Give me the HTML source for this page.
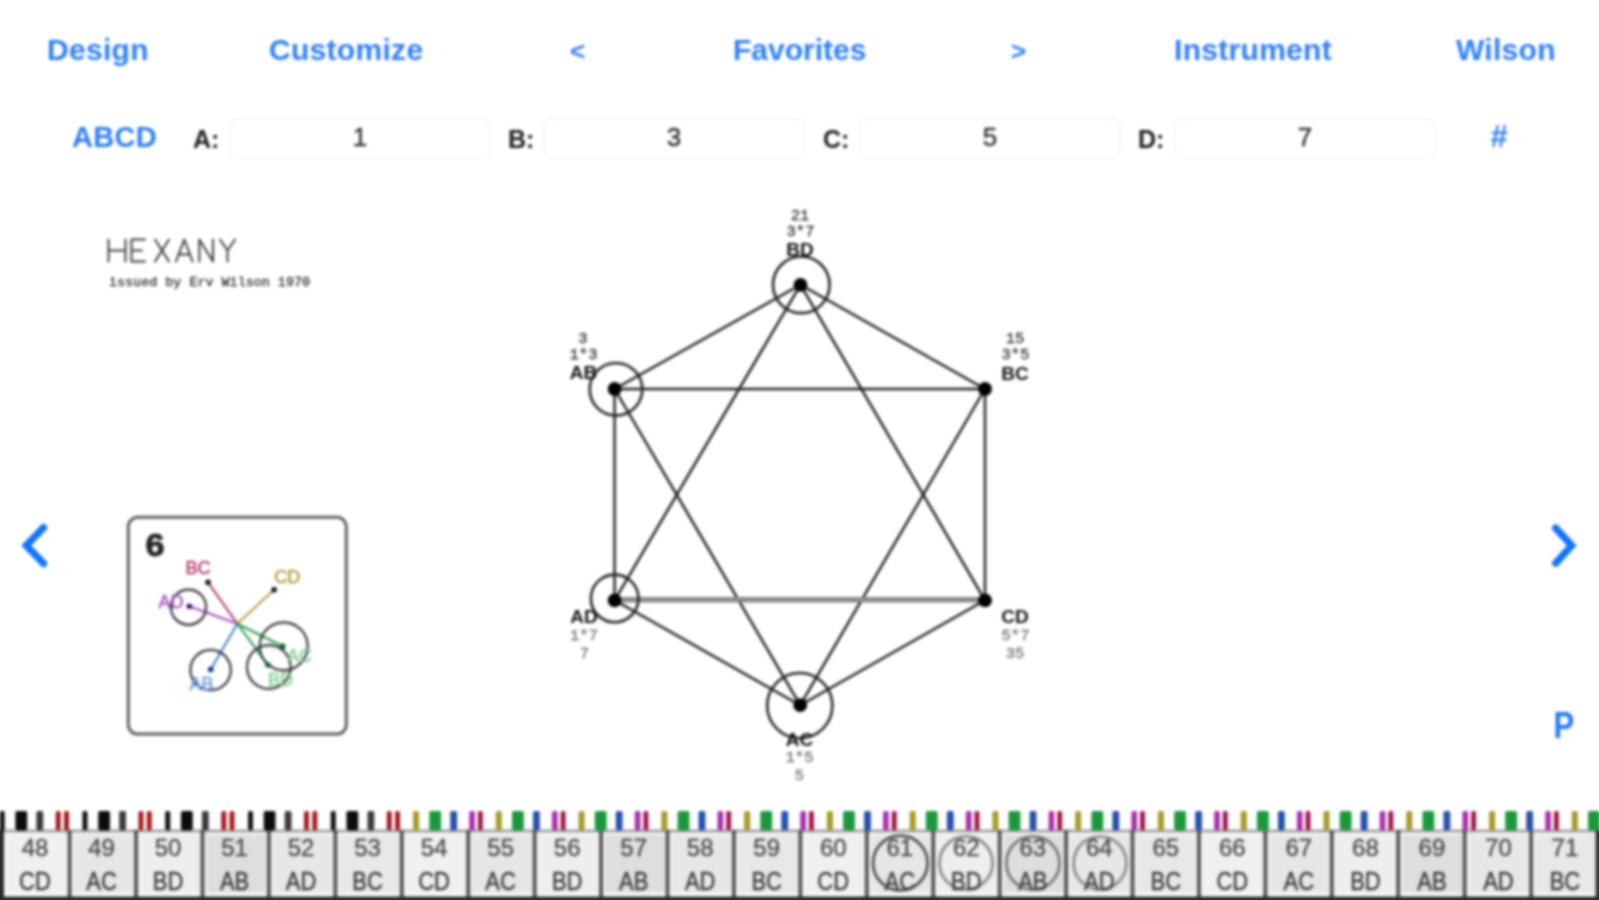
<!DOCTYPE html>
<html>
<head>
<meta charset="utf-8">
<title>Hexany</title>
<style>
html,body{margin:0;padding:0;background:#fff;}
body{width:1599px;height:900px;overflow:hidden;position:relative;font-family:"Liberation Sans",sans-serif;}
#root{position:absolute;left:0;top:0;width:1599px;height:900px;overflow:visible;filter:blur(1.35px);}
.t{position:absolute;white-space:nowrap;line-height:1;}
.nav{color:#2d7ff8;font-weight:bold;font-size:30px;top:35px;letter-spacing:0.3px;}
.lab{color:#1c1c1c;font-weight:bold;font-size:25px;top:127.3px;}
.inp{position:absolute;top:118px;height:40px;width:262px;border:1.5px solid #ececec;border-radius:9px;box-sizing:border-box;}
.val{-webkit-text-stroke:0.5px #333;color:#333;font-size:26px;top:124px;width:262px;text-align:center;}
</style>
</head>
<body>
<div id="root">
<!-- top nav -->
<div class="t nav" style="left:47px;">Design</div>
<div class="t nav" style="left:269px;">Customize</div>
<div class="t nav" style="left:570px;font-size:26px;top:38px;">&lt;</div>
<div class="t nav" style="left:733px;letter-spacing:0;">Favorites</div>
<div class="t nav" style="left:1011px;font-size:26px;top:38px;">&gt;</div>
<div class="t nav" style="left:1174px;">Instrument</div>
<div class="t nav" style="left:1456px;">Wilson</div>

<!-- row 2 -->
<div class="t nav" style="left:72px;top:122.7px;font-size:29px;">ABCD</div>
<div class="t lab" style="left:193px;">A:</div>
<div class="inp" style="left:229px;"></div>
<div class="t val" style="left:229px;">1</div>
<div class="t lab" style="left:508px;">B:</div>
<div class="inp" style="left:543px;"></div>
<div class="t val" style="left:543px;">3</div>
<div class="t lab" style="left:823px;">C:</div>
<div class="inp" style="left:859px;"></div>
<div class="t val" style="left:859px;">5</div>
<div class="t lab" style="left:1138px;">D:</div>
<div class="inp" style="left:1174px;"></div>
<div class="t val" style="left:1174px;">7</div>
<div class="t nav" style="left:1490.5px;top:121px;font-size:31px;">#</div>

<!-- MAIN SVG -->
<svg id="main" style="position:absolute;left:0;top:0;overflow:visible;" width="1599" height="900" viewBox="0 0 1599 900">
<!--HEX-->
<g stroke="#1c1c1c" stroke-width="2.45" stroke-linecap="round" fill="none">
<line x1="800.5" y1="284.8" x2="985" y2="389"/>
<line x1="800.5" y1="284.8" x2="985" y2="600.3"/>
<line x1="800.5" y1="284.8" x2="614.6" y2="600.3"/>
<line x1="800.5" y1="284.8" x2="614.6" y2="389"/>
<line x1="985" y1="389" x2="985" y2="600.3"/>
<line x1="985" y1="389" x2="800.2" y2="705.2"/>
<line x1="985" y1="389" x2="614.6" y2="389"/>
<line x1="985" y1="600.3" x2="800.2" y2="705.2"/>
<line x1="800.2" y1="705.2" x2="614.6" y2="600.3"/>
<line x1="800.2" y1="705.2" x2="614.6" y2="389"/>
<line x1="614.6" y1="600.3" x2="614.6" y2="389"/>
</g>
<line x1="614.6" y1="599.8" x2="985" y2="599.8" stroke="#8a8a8a" stroke-width="5.4"/>
<g stroke="#222" stroke-width="2.6" fill="none">
<circle cx="801.3" cy="284.8" r="28.3"/>
<circle cx="616" cy="389.3" r="26.3"/>
<circle cx="614.7" cy="598.4" r="23.8"/>
<circle cx="799.8" cy="705.6" r="32.6"/>
</g>
<g fill="#000">
<circle cx="800.5" cy="284.8" r="6.9"/>
<circle cx="985" cy="389" r="6.9"/>
<circle cx="985" cy="600.3" r="6.9"/>
<circle cx="800.2" cy="705.2" r="6.9"/>
<circle cx="614.6" cy="600.3" r="6.9"/>
<circle cx="614.6" cy="389" r="6.9"/>
</g>
<text x="800" y="255.6" text-anchor="middle" font-size="19" font-weight="bold" fill="#111">BD</text>
<text x="800.5" y="235.8" text-anchor="middle" font-family="Liberation Mono, monospace" font-size="15.5" fill="#2c2c2c" stroke="#2c2c2c" stroke-width="0.3">3*7</text>
<text x="800" y="219.6" text-anchor="middle" font-family="Liberation Mono, monospace" font-size="15.5" fill="#2c2c2c" stroke="#2c2c2c" stroke-width="0.3">21</text>
<text x="583.5" y="378.5" text-anchor="middle" font-size="19" font-weight="bold" fill="#111">AB</text>
<text x="583.5" y="358.8" text-anchor="middle" font-family="Liberation Mono, monospace" font-size="15.5" fill="#2c2c2c" stroke="#2c2c2c" stroke-width="0.3">1*3</text>
<text x="583" y="342.6" text-anchor="middle" font-family="Liberation Mono, monospace" font-size="15.5" fill="#2c2c2c" stroke="#2c2c2c" stroke-width="0.3">3</text>
<text x="1015" y="379.5" text-anchor="middle" font-size="19" font-weight="bold" fill="#111">BC</text>
<text x="1015.5" y="358.8" text-anchor="middle" font-family="Liberation Mono, monospace" font-size="15.5" fill="#2c2c2c" stroke="#2c2c2c" stroke-width="0.3">3*5</text>
<text x="1015" y="342.6" text-anchor="middle" font-family="Liberation Mono, monospace" font-size="15.5" fill="#2c2c2c" stroke="#2c2c2c" stroke-width="0.3">15</text>
<text x="584" y="623.4" text-anchor="middle" font-size="19" font-weight="bold" fill="#111">AD</text>
<text x="584" y="639.5" text-anchor="middle" font-family="Liberation Mono, monospace" font-size="15.5" fill="#6c6c6c" stroke="#6c6c6c" stroke-width="0.3">1*7</text>
<text x="584.5" y="657.5" text-anchor="middle" font-family="Liberation Mono, monospace" font-size="15.5" fill="#6c6c6c" stroke="#6c6c6c" stroke-width="0.3">7</text>
<text x="1015" y="623" text-anchor="middle" font-size="19" font-weight="bold" fill="#111">CD</text>
<text x="1015.5" y="639.5" text-anchor="middle" font-family="Liberation Mono, monospace" font-size="15.5" fill="#6c6c6c" stroke="#6c6c6c" stroke-width="0.3">5*7</text>
<text x="1015" y="657.5" text-anchor="middle" font-family="Liberation Mono, monospace" font-size="15.5" fill="#6c6c6c" stroke="#6c6c6c" stroke-width="0.3">35</text>
<text x="799.5" y="745.6" text-anchor="middle" font-size="19" font-weight="bold" fill="#111">AC</text>
<text x="799.5" y="762" text-anchor="middle" font-family="Liberation Mono, monospace" font-size="15.5" fill="#6c6c6c" stroke="#6c6c6c" stroke-width="0.3">1*5</text>
<text x="799.5" y="780.4" text-anchor="middle" font-family="Liberation Mono, monospace" font-size="15.5" fill="#6c6c6c" stroke="#6c6c6c" stroke-width="0.3">5</text>
<g stroke="#1273fe" stroke-width="7.2" fill="none" stroke-linejoin="miter" stroke-linecap="round">
<polyline points="43.6,527.6 26.3,545.6 43.6,563.6"/>
<polyline points="1555.6,528 1571.7,545.6 1555.6,563.2"/>
</g>
<text transform="translate(1553.5 738) scale(1 1.2)" font-size="31" font-weight="bold" fill="#1f79fa">P</text>
<rect x="128.3" y="517.3" width="218" height="216.8" rx="9.5" fill="#fff" stroke="#5e5e5e" stroke-width="3"/>
<text x="145.5" y="555.5" font-size="31" font-weight="bold" fill="#222" stroke="#222" stroke-width="0.9" textLength="19" lengthAdjust="spacingAndGlyphs">6</text>
<g stroke-width="2.1" stroke-linecap="round">
<line x1="237.3" y1="623.7" x2="208" y2="582.3" stroke="#b03a72"/>
<line x1="237.3" y1="623.7" x2="274.1" y2="589.8" stroke="#b39a3c"/>
<line x1="237.3" y1="623.7" x2="189.3" y2="606.3" stroke="#a24fc4"/>
<line x1="237.3" y1="623.7" x2="210.7" y2="669.5" stroke="#3f7fd0"/>
<line x1="237.3" y1="623.7" x2="282.7" y2="646.3" stroke="#2a9b4e"/>
<line x1="237.3" y1="623.7" x2="268" y2="665" stroke="#2a9b4e"/>
</g>
<g stroke="#333" stroke-width="2.2" fill="none">
<circle cx="188.5" cy="607.2" r="17.6"/>
<circle cx="210.6" cy="670" r="20.2"/>
<circle cx="283.7" cy="646.3" r="24"/>
<circle cx="268.8" cy="667" r="21.8"/>
</g>
<circle cx="208" cy="582.3" r="2.8" fill="#111"/>
<text x="198" y="574" text-anchor="middle" font-size="18" fill="#b03a72" stroke="#b03a72" stroke-width="0.5">BC</text>
<circle cx="274.1" cy="589.8" r="2.8" fill="#111"/>
<text x="287.3" y="583.3" text-anchor="middle" font-size="18" fill="#b39a3c" stroke="#b39a3c" stroke-width="0.5">CD</text>
<circle cx="189.3" cy="606.3" r="2.8" fill="#40106a"/>
<text x="171" y="607.5" text-anchor="middle" font-size="18" fill="#a24fc4" stroke="#a24fc4" stroke-width="0.5">AD</text>
<circle cx="210.7" cy="669.5" r="2.8" fill="#0a2a90"/>
<text x="201.5" y="690" text-anchor="middle" font-size="18" fill="#6a9be0" stroke="#6a9be0" stroke-width="0.5">AB</text>
<circle cx="282.7" cy="646.3" r="2.8" fill="#0c5a2a"/>
<text x="299.5" y="662" text-anchor="middle" font-size="18" fill="#7fd08f" stroke="#7fd08f" stroke-width="0.5">AC</text>
<circle cx="268" cy="665" r="2.8" fill="#0c5a2a"/>
<text x="280.5" y="686" text-anchor="middle" font-size="18" fill="#7fcf95" stroke="#7fcf95" stroke-width="0.5">BD</text>
<g stroke="#3c3c3c" stroke-width="2" fill="none" stroke-linecap="round" stroke-linejoin="round">
<path d="M108.5 239.5V261.5M125.5 239.5V261.5M108.5 250.5H125.5"/>
<path d="M145 239.5H131.5V261.5H145M131.5 250.5H142"/>
<path d="M155 239.5L169 261.5M169 239.5L155 261.5"/>
<path d="M176 261.5L184.3 239.5L192.6 261.5M179 254.5H189.6"/>
<path d="M199.3 261.5V239.5L213 261.5V239.5"/>
<path d="M220 239.5L227.5 250.5L235 239.5M227.5 250.5V261.5"/>
</g>
<text x="109" y="286" font-family="Liberation Mono, monospace" font-size="12.6" fill="#333" stroke="#333" stroke-width="0.35" textLength="201" lengthAdjust="spacingAndGlyphs">issued by Erv Wilson 1970</text>
<!--KB-->
<rect x="-20" y="830" width="1639" height="90" fill="#e9e9e9"/>
<rect x="3.20" y="831" width="66.43" height="66" fill="#f7f7f7"/>
<rect x="7.40" y="835" width="59.23" height="57.5" fill="#f0f0f0"/>
<rect x="69.63" y="831" width="66.43" height="66" fill="#f7f7f7"/>
<rect x="73.83" y="835" width="59.23" height="57.5" fill="#e6e6e6"/>
<rect x="136.06" y="831" width="66.43" height="66" fill="#f7f7f7"/>
<rect x="140.26" y="835" width="59.23" height="57.5" fill="#eeeeee"/>
<rect x="202.49" y="831" width="66.43" height="66" fill="#f7f7f7"/>
<rect x="206.69" y="835" width="59.23" height="57.5" fill="#dedede"/>
<rect x="268.92" y="831" width="66.43" height="66" fill="#f7f7f7"/>
<rect x="273.12" y="835" width="59.23" height="57.5" fill="#e7e7e7"/>
<rect x="335.35" y="831" width="66.43" height="66" fill="#f7f7f7"/>
<rect x="339.55" y="835" width="59.23" height="57.5" fill="#e8e8e8"/>
<rect x="401.78" y="831" width="66.43" height="66" fill="#f7f7f7"/>
<rect x="405.98" y="835" width="59.23" height="57.5" fill="#f0f0f0"/>
<rect x="468.21" y="831" width="66.43" height="66" fill="#f7f7f7"/>
<rect x="472.41" y="835" width="59.23" height="57.5" fill="#e6e6e6"/>
<rect x="534.64" y="831" width="66.43" height="66" fill="#f7f7f7"/>
<rect x="538.84" y="835" width="59.23" height="57.5" fill="#eeeeee"/>
<rect x="601.07" y="831" width="66.43" height="66" fill="#f7f7f7"/>
<rect x="605.27" y="835" width="59.23" height="57.5" fill="#dedede"/>
<rect x="667.50" y="831" width="66.43" height="66" fill="#f7f7f7"/>
<rect x="671.70" y="835" width="59.23" height="57.5" fill="#e7e7e7"/>
<rect x="733.93" y="831" width="66.43" height="66" fill="#f7f7f7"/>
<rect x="738.13" y="835" width="59.23" height="57.5" fill="#e8e8e8"/>
<rect x="800.36" y="831" width="66.43" height="66" fill="#f7f7f7"/>
<rect x="804.56" y="835" width="59.23" height="57.5" fill="#f0f0f0"/>
<rect x="866.79" y="831" width="66.43" height="66" fill="#f7f7f7"/>
<rect x="870.99" y="835" width="59.23" height="57.5" fill="#e6e6e6"/>
<rect x="933.22" y="831" width="66.43" height="66" fill="#f7f7f7"/>
<rect x="937.42" y="835" width="59.23" height="57.5" fill="#eeeeee"/>
<rect x="999.65" y="831" width="66.43" height="66" fill="#f7f7f7"/>
<rect x="1003.85" y="835" width="59.23" height="57.5" fill="#dedede"/>
<rect x="1066.08" y="831" width="66.43" height="66" fill="#f7f7f7"/>
<rect x="1070.28" y="835" width="59.23" height="57.5" fill="#e7e7e7"/>
<rect x="1132.51" y="831" width="66.43" height="66" fill="#f7f7f7"/>
<rect x="1136.71" y="835" width="59.23" height="57.5" fill="#e8e8e8"/>
<rect x="1198.94" y="831" width="66.43" height="66" fill="#f7f7f7"/>
<rect x="1203.14" y="835" width="59.23" height="57.5" fill="#f0f0f0"/>
<rect x="1265.37" y="831" width="66.43" height="66" fill="#f7f7f7"/>
<rect x="1269.57" y="835" width="59.23" height="57.5" fill="#e6e6e6"/>
<rect x="1331.80" y="831" width="66.43" height="66" fill="#f7f7f7"/>
<rect x="1336.00" y="835" width="59.23" height="57.5" fill="#eeeeee"/>
<rect x="1398.23" y="831" width="66.43" height="66" fill="#f7f7f7"/>
<rect x="1402.43" y="835" width="59.23" height="57.5" fill="#dedede"/>
<rect x="1464.66" y="831" width="66.43" height="66" fill="#f7f7f7"/>
<rect x="1468.86" y="835" width="59.23" height="57.5" fill="#e7e7e7"/>
<rect x="1531.09" y="831" width="66.43" height="66" fill="#f7f7f7"/>
<rect x="1535.29" y="835" width="59.23" height="57.5" fill="#e8e8e8"/>
<rect x="-20" y="829.5" width="1639" height="3" fill="#a2a2a2"/>
<rect x="-20" y="830" width="24" height="90" fill="#2a2a2a"/>
<rect x="67.63" y="830" width="4" height="70" fill="#555"/>
<rect x="134.06" y="830" width="4" height="70" fill="#555"/>
<rect x="200.49" y="830" width="4" height="70" fill="#555"/>
<rect x="266.92" y="830" width="4" height="70" fill="#555"/>
<rect x="333.35" y="830" width="4" height="70" fill="#555"/>
<rect x="399.78" y="830" width="4" height="70" fill="#555"/>
<rect x="466.21" y="830" width="4" height="70" fill="#555"/>
<rect x="532.64" y="830" width="4" height="70" fill="#555"/>
<rect x="599.07" y="830" width="4" height="70" fill="#555"/>
<rect x="665.50" y="830" width="4" height="70" fill="#555"/>
<rect x="731.93" y="830" width="4" height="70" fill="#555"/>
<rect x="798.36" y="830" width="4" height="70" fill="#555"/>
<rect x="864.79" y="830" width="4" height="70" fill="#555"/>
<rect x="931.22" y="830" width="4" height="70" fill="#555"/>
<rect x="997.65" y="830" width="4" height="70" fill="#555"/>
<rect x="1064.08" y="830" width="4" height="70" fill="#555"/>
<rect x="1130.51" y="830" width="4" height="70" fill="#555"/>
<rect x="1196.94" y="830" width="4" height="70" fill="#555"/>
<rect x="1263.37" y="830" width="4" height="70" fill="#555"/>
<rect x="1329.80" y="830" width="4" height="70" fill="#555"/>
<rect x="1396.23" y="830" width="4" height="70" fill="#555"/>
<rect x="1462.66" y="830" width="4" height="70" fill="#555"/>
<rect x="1529.09" y="830" width="4" height="70" fill="#555"/>
<rect x="1595.52" y="830" width="24" height="70" fill="#333"/>
<rect x="-20" y="896.6" width="1639" height="24" fill="#2a2a2a"/>
<rect x="-0.30" y="811" width="5.0" height="19.4" rx="1.8" fill="#111"/>
<rect x="15.40" y="811" width="11.8" height="19.4" rx="1.8" fill="#0c0c0c"/>
<rect x="36.40" y="811" width="6.8" height="19.4" rx="1.8" fill="#3a3a3a"/>
<rect x="55.75" y="811" width="4.9" height="19.4" rx="1.8" fill="#a3161c"/>
<rect x="64.05" y="811" width="4.9" height="19.4" rx="1.8" fill="#a3161c"/>
<rect x="82.47" y="811" width="5.0" height="19.4" rx="1.8" fill="#111"/>
<rect x="98.17" y="811" width="11.8" height="19.4" rx="1.8" fill="#0c0c0c"/>
<rect x="119.17" y="811" width="6.8" height="19.4" rx="1.8" fill="#3a3a3a"/>
<rect x="138.52" y="811" width="4.9" height="19.4" rx="1.8" fill="#a3161c"/>
<rect x="146.82" y="811" width="4.9" height="19.4" rx="1.8" fill="#a3161c"/>
<rect x="165.24" y="811" width="5.0" height="19.4" rx="1.8" fill="#111"/>
<rect x="180.94" y="811" width="11.8" height="19.4" rx="1.8" fill="#0c0c0c"/>
<rect x="201.94" y="811" width="6.8" height="19.4" rx="1.8" fill="#3a3a3a"/>
<rect x="221.29" y="811" width="4.9" height="19.4" rx="1.8" fill="#a3161c"/>
<rect x="229.59" y="811" width="4.9" height="19.4" rx="1.8" fill="#a3161c"/>
<rect x="248.01" y="811" width="5.0" height="19.4" rx="1.8" fill="#111"/>
<rect x="263.71" y="811" width="11.8" height="19.4" rx="1.8" fill="#0c0c0c"/>
<rect x="284.71" y="811" width="6.8" height="19.4" rx="1.8" fill="#3a3a3a"/>
<rect x="304.06" y="811" width="4.9" height="19.4" rx="1.8" fill="#a3161c"/>
<rect x="312.36" y="811" width="4.9" height="19.4" rx="1.8" fill="#a3161c"/>
<rect x="330.78" y="811" width="5.0" height="19.4" rx="1.8" fill="#111"/>
<rect x="346.48" y="811" width="11.8" height="19.4" rx="1.8" fill="#0c0c0c"/>
<rect x="367.48" y="811" width="6.8" height="19.4" rx="1.8" fill="#3a3a3a"/>
<rect x="386.83" y="811" width="4.9" height="19.4" rx="1.8" fill="#a3161c"/>
<rect x="395.13" y="811" width="4.9" height="19.4" rx="1.8" fill="#a3161c"/>
<rect x="413.05" y="811" width="6.0" height="19.4" rx="1.8" fill="#a59b28"/>
<rect x="429.25" y="811" width="11.8" height="19.4" rx="1.8" fill="#1c983c"/>
<rect x="450.25" y="811" width="6.8" height="19.4" rx="1.8" fill="#2450ac"/>
<rect x="469.25" y="811" width="5.6" height="19.4" rx="1.8" fill="#a82cac"/>
<rect x="477.90" y="811" width="4.9" height="19.4" rx="1.8" fill="#a01546"/>
<rect x="495.82" y="811" width="6.0" height="19.4" rx="1.8" fill="#a59b28"/>
<rect x="512.02" y="811" width="11.8" height="19.4" rx="1.8" fill="#1c983c"/>
<rect x="533.02" y="811" width="6.8" height="19.4" rx="1.8" fill="#2450ac"/>
<rect x="552.02" y="811" width="5.6" height="19.4" rx="1.8" fill="#a82cac"/>
<rect x="560.67" y="811" width="4.9" height="19.4" rx="1.8" fill="#a01546"/>
<rect x="578.59" y="811" width="6.0" height="19.4" rx="1.8" fill="#a59b28"/>
<rect x="594.79" y="811" width="11.8" height="19.4" rx="1.8" fill="#1c983c"/>
<rect x="615.79" y="811" width="6.8" height="19.4" rx="1.8" fill="#2450ac"/>
<rect x="634.79" y="811" width="5.6" height="19.4" rx="1.8" fill="#a82cac"/>
<rect x="643.44" y="811" width="4.9" height="19.4" rx="1.8" fill="#a01546"/>
<rect x="661.36" y="811" width="6.0" height="19.4" rx="1.8" fill="#a59b28"/>
<rect x="677.56" y="811" width="11.8" height="19.4" rx="1.8" fill="#1c983c"/>
<rect x="698.56" y="811" width="6.8" height="19.4" rx="1.8" fill="#2450ac"/>
<rect x="717.56" y="811" width="5.6" height="19.4" rx="1.8" fill="#a82cac"/>
<rect x="726.21" y="811" width="4.9" height="19.4" rx="1.8" fill="#a01546"/>
<rect x="744.13" y="811" width="6.0" height="19.4" rx="1.8" fill="#a59b28"/>
<rect x="760.33" y="811" width="11.8" height="19.4" rx="1.8" fill="#1c983c"/>
<rect x="781.33" y="811" width="6.8" height="19.4" rx="1.8" fill="#2450ac"/>
<rect x="800.33" y="811" width="5.6" height="19.4" rx="1.8" fill="#a82cac"/>
<rect x="808.98" y="811" width="4.9" height="19.4" rx="1.8" fill="#a01546"/>
<rect x="826.90" y="811" width="6.0" height="19.4" rx="1.8" fill="#a59b28"/>
<rect x="843.10" y="811" width="11.8" height="19.4" rx="1.8" fill="#1c983c"/>
<rect x="864.10" y="811" width="6.8" height="19.4" rx="1.8" fill="#2450ac"/>
<rect x="883.10" y="811" width="5.6" height="19.4" rx="1.8" fill="#a82cac"/>
<rect x="891.75" y="811" width="4.9" height="19.4" rx="1.8" fill="#a01546"/>
<rect x="909.67" y="811" width="6.0" height="19.4" rx="1.8" fill="#a59b28"/>
<rect x="925.87" y="811" width="11.8" height="19.4" rx="1.8" fill="#1c983c"/>
<rect x="946.87" y="811" width="6.8" height="19.4" rx="1.8" fill="#2450ac"/>
<rect x="965.87" y="811" width="5.6" height="19.4" rx="1.8" fill="#a82cac"/>
<rect x="974.52" y="811" width="4.9" height="19.4" rx="1.8" fill="#a01546"/>
<rect x="992.44" y="811" width="6.0" height="19.4" rx="1.8" fill="#a59b28"/>
<rect x="1008.64" y="811" width="11.8" height="19.4" rx="1.8" fill="#1c983c"/>
<rect x="1029.64" y="811" width="6.8" height="19.4" rx="1.8" fill="#2450ac"/>
<rect x="1048.64" y="811" width="5.6" height="19.4" rx="1.8" fill="#a82cac"/>
<rect x="1057.29" y="811" width="4.9" height="19.4" rx="1.8" fill="#a01546"/>
<rect x="1075.21" y="811" width="6.0" height="19.4" rx="1.8" fill="#a59b28"/>
<rect x="1091.41" y="811" width="11.8" height="19.4" rx="1.8" fill="#1c983c"/>
<rect x="1112.41" y="811" width="6.8" height="19.4" rx="1.8" fill="#2450ac"/>
<rect x="1131.41" y="811" width="5.6" height="19.4" rx="1.8" fill="#a82cac"/>
<rect x="1140.06" y="811" width="4.9" height="19.4" rx="1.8" fill="#a01546"/>
<rect x="1157.98" y="811" width="6.0" height="19.4" rx="1.8" fill="#a59b28"/>
<rect x="1174.18" y="811" width="11.8" height="19.4" rx="1.8" fill="#1c983c"/>
<rect x="1195.18" y="811" width="6.8" height="19.4" rx="1.8" fill="#2450ac"/>
<rect x="1214.18" y="811" width="5.6" height="19.4" rx="1.8" fill="#a82cac"/>
<rect x="1222.83" y="811" width="4.9" height="19.4" rx="1.8" fill="#a01546"/>
<rect x="1240.75" y="811" width="6.0" height="19.4" rx="1.8" fill="#a59b28"/>
<rect x="1256.95" y="811" width="11.8" height="19.4" rx="1.8" fill="#1c983c"/>
<rect x="1277.95" y="811" width="6.8" height="19.4" rx="1.8" fill="#2450ac"/>
<rect x="1296.95" y="811" width="5.6" height="19.4" rx="1.8" fill="#a82cac"/>
<rect x="1305.60" y="811" width="4.9" height="19.4" rx="1.8" fill="#a01546"/>
<rect x="1323.52" y="811" width="6.0" height="19.4" rx="1.8" fill="#a59b28"/>
<rect x="1339.72" y="811" width="11.8" height="19.4" rx="1.8" fill="#1c983c"/>
<rect x="1360.72" y="811" width="6.8" height="19.4" rx="1.8" fill="#2450ac"/>
<rect x="1379.72" y="811" width="5.6" height="19.4" rx="1.8" fill="#a82cac"/>
<rect x="1388.37" y="811" width="4.9" height="19.4" rx="1.8" fill="#a01546"/>
<rect x="1406.29" y="811" width="6.0" height="19.4" rx="1.8" fill="#a59b28"/>
<rect x="1422.49" y="811" width="11.8" height="19.4" rx="1.8" fill="#1c983c"/>
<rect x="1443.49" y="811" width="6.8" height="19.4" rx="1.8" fill="#2450ac"/>
<rect x="1462.49" y="811" width="5.6" height="19.4" rx="1.8" fill="#a82cac"/>
<rect x="1471.14" y="811" width="4.9" height="19.4" rx="1.8" fill="#a01546"/>
<rect x="1489.06" y="811" width="6.0" height="19.4" rx="1.8" fill="#a59b28"/>
<rect x="1505.26" y="811" width="11.8" height="19.4" rx="1.8" fill="#1c983c"/>
<rect x="1526.26" y="811" width="6.8" height="19.4" rx="1.8" fill="#2450ac"/>
<rect x="1545.26" y="811" width="5.6" height="19.4" rx="1.8" fill="#a82cac"/>
<rect x="1553.91" y="811" width="4.9" height="19.4" rx="1.8" fill="#a01546"/>
<rect x="1571.83" y="811" width="6.0" height="19.4" rx="1.8" fill="#a59b28"/>
<rect x="1588.03" y="811" width="11.8" height="19.4" rx="1.8" fill="#1c983c"/>
<rect x="1609.03" y="811" width="6.8" height="19.4" rx="1.8" fill="#2450ac"/>
<rect x="1628.03" y="811" width="5.6" height="19.4" rx="1.8" fill="#a82cac"/>
<rect x="1636.68" y="811" width="4.9" height="19.4" rx="1.8" fill="#a01546"/>
<rect x="1654.60" y="811" width="6.0" height="19.4" rx="1.8" fill="#a59b28"/>
<rect x="1670.80" y="811" width="11.8" height="19.4" rx="1.8" fill="#1c983c"/>
<rect x="1691.80" y="811" width="6.8" height="19.4" rx="1.8" fill="#2450ac"/>
<rect x="1710.80" y="811" width="5.6" height="19.4" rx="1.8" fill="#a82cac"/>
<rect x="1719.45" y="811" width="4.9" height="19.4" rx="1.8" fill="#a01546"/>
<text x="35.00" y="855.6" text-anchor="middle" font-size="24" fill="#4c4c4c" stroke="#4c4c4c" stroke-width="0.4">48</text>
<text transform="translate(35.00 889.6) scale(1 1.13)" text-anchor="middle" font-size="22" fill="#3c3c3c" stroke="#3c3c3c" stroke-width="0.4">CD</text>
<text x="101.52" y="855.6" text-anchor="middle" font-size="24" fill="#4c4c4c" stroke="#4c4c4c" stroke-width="0.4">49</text>
<text transform="translate(101.52 889.6) scale(1 1.13)" text-anchor="middle" font-size="22" fill="#3c3c3c" stroke="#3c3c3c" stroke-width="0.4">AC</text>
<text x="168.04" y="855.6" text-anchor="middle" font-size="24" fill="#4c4c4c" stroke="#4c4c4c" stroke-width="0.4">50</text>
<text transform="translate(168.04 889.6) scale(1 1.13)" text-anchor="middle" font-size="22" fill="#3c3c3c" stroke="#3c3c3c" stroke-width="0.4">BD</text>
<text x="234.56" y="855.6" text-anchor="middle" font-size="24" fill="#4c4c4c" stroke="#4c4c4c" stroke-width="0.4">51</text>
<text transform="translate(234.56 889.6) scale(1 1.13)" text-anchor="middle" font-size="22" fill="#3c3c3c" stroke="#3c3c3c" stroke-width="0.4">AB</text>
<text x="301.08" y="855.6" text-anchor="middle" font-size="24" fill="#4c4c4c" stroke="#4c4c4c" stroke-width="0.4">52</text>
<text transform="translate(301.08 889.6) scale(1 1.13)" text-anchor="middle" font-size="22" fill="#3c3c3c" stroke="#3c3c3c" stroke-width="0.4">AD</text>
<text x="367.60" y="855.6" text-anchor="middle" font-size="24" fill="#4c4c4c" stroke="#4c4c4c" stroke-width="0.4">53</text>
<text transform="translate(367.60 889.6) scale(1 1.13)" text-anchor="middle" font-size="22" fill="#3c3c3c" stroke="#3c3c3c" stroke-width="0.4">BC</text>
<text x="434.12" y="855.6" text-anchor="middle" font-size="24" fill="#4c4c4c" stroke="#4c4c4c" stroke-width="0.4">54</text>
<text transform="translate(434.12 889.6) scale(1 1.13)" text-anchor="middle" font-size="22" fill="#3c3c3c" stroke="#3c3c3c" stroke-width="0.4">CD</text>
<text x="500.64" y="855.6" text-anchor="middle" font-size="24" fill="#4c4c4c" stroke="#4c4c4c" stroke-width="0.4">55</text>
<text transform="translate(500.64 889.6) scale(1 1.13)" text-anchor="middle" font-size="22" fill="#3c3c3c" stroke="#3c3c3c" stroke-width="0.4">AC</text>
<text x="567.16" y="855.6" text-anchor="middle" font-size="24" fill="#4c4c4c" stroke="#4c4c4c" stroke-width="0.4">56</text>
<text transform="translate(567.16 889.6) scale(1 1.13)" text-anchor="middle" font-size="22" fill="#3c3c3c" stroke="#3c3c3c" stroke-width="0.4">BD</text>
<text x="633.68" y="855.6" text-anchor="middle" font-size="24" fill="#4c4c4c" stroke="#4c4c4c" stroke-width="0.4">57</text>
<text transform="translate(633.68 889.6) scale(1 1.13)" text-anchor="middle" font-size="22" fill="#3c3c3c" stroke="#3c3c3c" stroke-width="0.4">AB</text>
<text x="700.20" y="855.6" text-anchor="middle" font-size="24" fill="#4c4c4c" stroke="#4c4c4c" stroke-width="0.4">58</text>
<text transform="translate(700.20 889.6) scale(1 1.13)" text-anchor="middle" font-size="22" fill="#3c3c3c" stroke="#3c3c3c" stroke-width="0.4">AD</text>
<text x="766.72" y="855.6" text-anchor="middle" font-size="24" fill="#4c4c4c" stroke="#4c4c4c" stroke-width="0.4">59</text>
<text transform="translate(766.72 889.6) scale(1 1.13)" text-anchor="middle" font-size="22" fill="#3c3c3c" stroke="#3c3c3c" stroke-width="0.4">BC</text>
<text x="833.24" y="855.6" text-anchor="middle" font-size="24" fill="#4c4c4c" stroke="#4c4c4c" stroke-width="0.4">60</text>
<text transform="translate(833.24 889.6) scale(1 1.13)" text-anchor="middle" font-size="22" fill="#3c3c3c" stroke="#3c3c3c" stroke-width="0.4">CD</text>
<circle cx="900.3" cy="863" r="27.3" fill="none" stroke="#4f4f4f" stroke-width="2.8"/>
<text x="899.76" y="855.6" text-anchor="middle" font-size="24" fill="#4c4c4c" stroke="#4c4c4c" stroke-width="0.4">61</text>
<text transform="translate(899.76 889.6) scale(1 1.13)" text-anchor="middle" font-size="22" fill="#3c3c3c" stroke="#3c3c3c" stroke-width="0.4">AC</text>
<circle cx="966" cy="863" r="26.6" fill="none" stroke="#8a8a8a" stroke-width="2.8"/>
<text x="966.28" y="855.6" text-anchor="middle" font-size="24" fill="#4c4c4c" stroke="#4c4c4c" stroke-width="0.4">62</text>
<text transform="translate(966.28 889.6) scale(1 1.13)" text-anchor="middle" font-size="22" fill="#3c3c3c" stroke="#3c3c3c" stroke-width="0.4">BD</text>
<circle cx="1032.9" cy="863" r="26.6" fill="none" stroke="#767676" stroke-width="2.8"/>
<text x="1032.80" y="855.6" text-anchor="middle" font-size="24" fill="#4c4c4c" stroke="#4c4c4c" stroke-width="0.4">63</text>
<text transform="translate(1032.80 889.6) scale(1 1.13)" text-anchor="middle" font-size="22" fill="#3c3c3c" stroke="#3c3c3c" stroke-width="0.4">AB</text>
<circle cx="1100" cy="863" r="26.4" fill="none" stroke="#8c8c8c" stroke-width="2.8"/>
<text x="1099.32" y="855.6" text-anchor="middle" font-size="24" fill="#4c4c4c" stroke="#4c4c4c" stroke-width="0.4">64</text>
<text transform="translate(1099.32 889.6) scale(1 1.13)" text-anchor="middle" font-size="22" fill="#3c3c3c" stroke="#3c3c3c" stroke-width="0.4">AD</text>
<text x="1165.84" y="855.6" text-anchor="middle" font-size="24" fill="#4c4c4c" stroke="#4c4c4c" stroke-width="0.4">65</text>
<text transform="translate(1165.84 889.6) scale(1 1.13)" text-anchor="middle" font-size="22" fill="#3c3c3c" stroke="#3c3c3c" stroke-width="0.4">BC</text>
<text x="1232.36" y="855.6" text-anchor="middle" font-size="24" fill="#4c4c4c" stroke="#4c4c4c" stroke-width="0.4">66</text>
<text transform="translate(1232.36 889.6) scale(1 1.13)" text-anchor="middle" font-size="22" fill="#3c3c3c" stroke="#3c3c3c" stroke-width="0.4">CD</text>
<text x="1298.88" y="855.6" text-anchor="middle" font-size="24" fill="#4c4c4c" stroke="#4c4c4c" stroke-width="0.4">67</text>
<text transform="translate(1298.88 889.6) scale(1 1.13)" text-anchor="middle" font-size="22" fill="#3c3c3c" stroke="#3c3c3c" stroke-width="0.4">AC</text>
<text x="1365.40" y="855.6" text-anchor="middle" font-size="24" fill="#4c4c4c" stroke="#4c4c4c" stroke-width="0.4">68</text>
<text transform="translate(1365.40 889.6) scale(1 1.13)" text-anchor="middle" font-size="22" fill="#3c3c3c" stroke="#3c3c3c" stroke-width="0.4">BD</text>
<text x="1431.92" y="855.6" text-anchor="middle" font-size="24" fill="#4c4c4c" stroke="#4c4c4c" stroke-width="0.4">69</text>
<text transform="translate(1431.92 889.6) scale(1 1.13)" text-anchor="middle" font-size="22" fill="#3c3c3c" stroke="#3c3c3c" stroke-width="0.4">AB</text>
<text x="1498.44" y="855.6" text-anchor="middle" font-size="24" fill="#4c4c4c" stroke="#4c4c4c" stroke-width="0.4">70</text>
<text transform="translate(1498.44 889.6) scale(1 1.13)" text-anchor="middle" font-size="22" fill="#3c3c3c" stroke="#3c3c3c" stroke-width="0.4">AD</text>
<text x="1564.96" y="855.6" text-anchor="middle" font-size="24" fill="#4c4c4c" stroke="#4c4c4c" stroke-width="0.4">71</text>
<text transform="translate(1564.96 889.6) scale(1 1.13)" text-anchor="middle" font-size="22" fill="#3c3c3c" stroke="#3c3c3c" stroke-width="0.4">BC</text>
<!--/HEX-->
</svg>

</div>
</body>
</html>
